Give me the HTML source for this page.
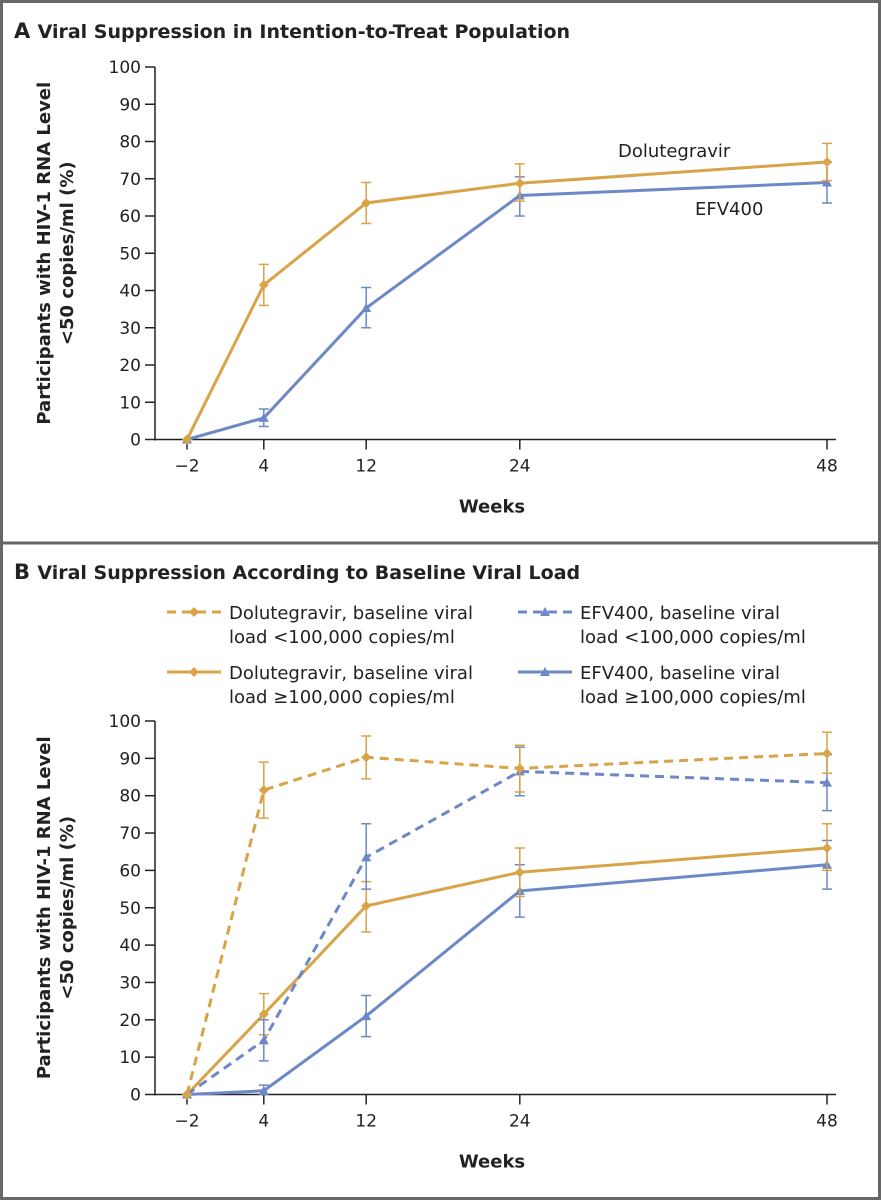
<!DOCTYPE html>
<html><head><meta charset="utf-8"><style>
body{margin:0;background:#fff;width:881px;height:1200px;overflow:hidden}
svg{display:block;font-family:"DejaVu Sans","Liberation Sans",sans-serif}
</style></head><body>
<svg id="c" width="881" height="1200">
<rect x="1.5" y="1.5" width="878" height="1197" fill="none" stroke="#666" stroke-width="3"/>
<line x1="0" y1="543" x2="881" y2="543" stroke="#666" stroke-width="3"/>
<text x="14" y="38" font-size="21" font-weight="bold" fill="#222">A  <tspan font-size="19">Viral Suppression in Intention-to-Treat Population</tspan></text>
<text x="14" y="579" font-size="21" font-weight="bold" fill="#222">B  <tspan font-size="19">Viral Suppression According to Baseline Viral Load</tspan></text>
<text x="618" y="157" font-size="18" fill="#222">Dolutegravir</text>
<text x="695" y="215" font-size="18" fill="#222">EFV400</text>
<g id="legend"></g>
</svg>
<script>
const weeks=[-2,4,12,24,48];
const yTicks=[0,10,20,30,40,50,60,70,80,90,100];
const aDolu=[0,41.5,63.5,68.8,74.5], aDoluLo=[0,36,58,64,69.5], aDoluHi=[0,47,69,74,79.5];
const aEfv=[0,5.8,35.3,65.5,69], aEfvLo=[0,3.5,30,60,63.5], aEfvHi=[0,8.2,40.8,70.5,74.5];
const bDoluLow=[0,81.5,90.3,87.3,91.3], bDoluLowLo=[0,74,84.5,81,86], bDoluLowHi=[0,89,96,93.5,97];
const bEfvLow=[0,14.5,63.5,86.5,83.5], bEfvLowLo=[0,9,55,80,76], bEfvLowHi=[0,20,72.5,93,91];
const bDoluHigh=[0,21.5,50.5,59.5,66], bDoluHighLo=[0,16,43.5,53,60], bDoluHighHi=[0,27,57,66,72.5];
const bEfvHigh=[0,1,21,54.5,61.5], bEfvHighLo=[0,0,15.5,47.5,55], bEfvHighHi=[0,2.5,26.5,61.5,68];
const OR="#D9A347",BL="#6D88C6";
const svg=document.getElementById('c'),NS="http://www.w3.org/2000/svg";
function mk(t,a,p){const e=document.createElementNS(NS,t);for(const k in a)e.setAttribute(k,a[k]);(p||svg).appendChild(e);return e;}
const xs=w=>187+(w+2)*(827-187)/50;
function panel(y0,y100,id){
 const ys=v=>y0+(y100-y0)*v/100;
 const g=mk('g',{});
 
 
 mk('line',{x1:155,y1:y100,x2:155,y2:y0+1,stroke:'#222','stroke-width':1.5},g);
 mk('line',{x1:155,y1:y0,x2:836,y2:y0,stroke:'#222','stroke-width':1.5},g);
 yTicks.forEach(t=>{const y=ys(t);
  mk('line',{x1:145,y1:y,x2:155,y2:y,stroke:'#222','stroke-width':1.5},g);
  const tx=mk('text',{x:141,y:y+6,'font-size':17,'text-anchor':'end',fill:'#222'},g);tx.textContent=t;
  
  });
 weeks.forEach(w=>{const x=xs(w);
  mk('line',{x1:x,y1:y0,x2:x,y2:y0+10,stroke:'#222','stroke-width':1.5},g);
  const tx=mk('text',{x:x,y:y0+32,'font-size':17,'text-anchor':'middle',fill:'#222'},g);tx.textContent=w<0?'\u2212'+(-w):w;
  
  });
 const xt=mk('text',{x:492,y:y0+73,'font-size':18,'font-weight':'bold','text-anchor':'middle',fill:'#222'},g);xt.textContent='Weeks';
 
 
 const yt=mk('text',{transform:`translate(50,${(y0+y100)/2}) rotate(-90)`,'font-size':18,'font-weight':'bold','text-anchor':'middle',fill:'#222'},g);
 
 
 const t1=mk('tspan',{x:0,dy:0},yt);t1.textContent='Participants with HIV-1 RNA Level';
 const t2=mk('tspan',{x:0,dy:23},yt);t2.textContent='<50 copies/ml (%)';
 return ys;
}
function marker(x,y,col,shape,p){
 if(shape==='d')mk('path',{d:`M${x} ${y-5}L${x+5} ${y}L${x} ${y+5}L${x-5} ${y}Z`,fill:col},p);
 else mk('path',{d:`M${x} ${y-5}L${x+5} ${y+4}L${x-5} ${y+4}Z`,fill:col},p);
}
function series(ys,vals,lo,hi,col,shape,dash,name){
 const g=mk('g',{});
 
 
 mk('polyline',{points:weeks.map((w,i)=>xs(w)+','+ys(vals[i])).join(' '),fill:'none',stroke:col,'stroke-width':3,'stroke-dasharray':dash?'9 6':'none'},g);
 weeks.forEach((w,i)=>{const x=xs(w);
  if(hi[i]>lo[i]){mk('path',{d:`M${x} ${ys(lo[i])}V${ys(hi[i])}M${x-5} ${ys(lo[i])}H${x+5}M${x-5} ${ys(hi[i])}H${x+5}`,stroke:col,'stroke-width':1.5,fill:'none'},g);}
  marker(x,ys(vals[i]),col,shape,g);});
}
const yA=panel(439.5,67,'panel-a');
series(yA,aEfv,aEfvLo,aEfvHi,BL,'t',false,'series-a-efv400');
series(yA,aDolu,aDoluLo,aDoluHi,OR,'d',false,'series-a-dolutegravir');
const yB=panel(1094.5,721,'panel-b');
series(yB,bEfvHigh,bEfvHighLo,bEfvHighHi,BL,'t',false,'series-b-efv-high');
series(yB,bDoluHigh,bDoluHighLo,bDoluHighHi,OR,'d',false,'series-b-dolu-high');
series(yB,bEfvLow,bEfvLowLo,bEfvLowHi,BL,'t',true,'series-b-efv-low');
series(yB,bDoluLow,bDoluLowLo,bDoluLowHi,OR,'d',true,'series-b-dolu-low');
const lg=document.getElementById('legend');
const entries=[[167,612,OR,'d',true,'Dolutegravir, baseline viral','load <100,000 copies/ml'],
[518,612,BL,'t',true,'EFV400, baseline viral','load <100,000 copies/ml'],
[167,672,OR,'d',false,'Dolutegravir, baseline viral','load \u2265100,000 copies/ml'],
[518,672,BL,'t',false,'EFV400, baseline viral','load \u2265100,000 copies/ml']];
entries.forEach(e=>{const g=mk('g',{},lg);
 
 
 mk('line',{x1:e[0],y1:e[1],x2:e[0]+54,y2:e[1],stroke:e[2],'stroke-width':3,'stroke-dasharray':e[4]?'9 6':'none'},g);
 marker(e[0]+27,e[1],e[2],e[3],g);
 const t=mk('text',{x:e[0]+62,y:e[1]+7,'font-size':18,fill:'#222'},g);
 const a=mk('tspan',{x:e[0]+62,dy:0},t);a.textContent=e[5];
 const b=mk('tspan',{x:e[0]+62,dy:24},t);b.textContent=e[6];});
</script>
</body></html>
